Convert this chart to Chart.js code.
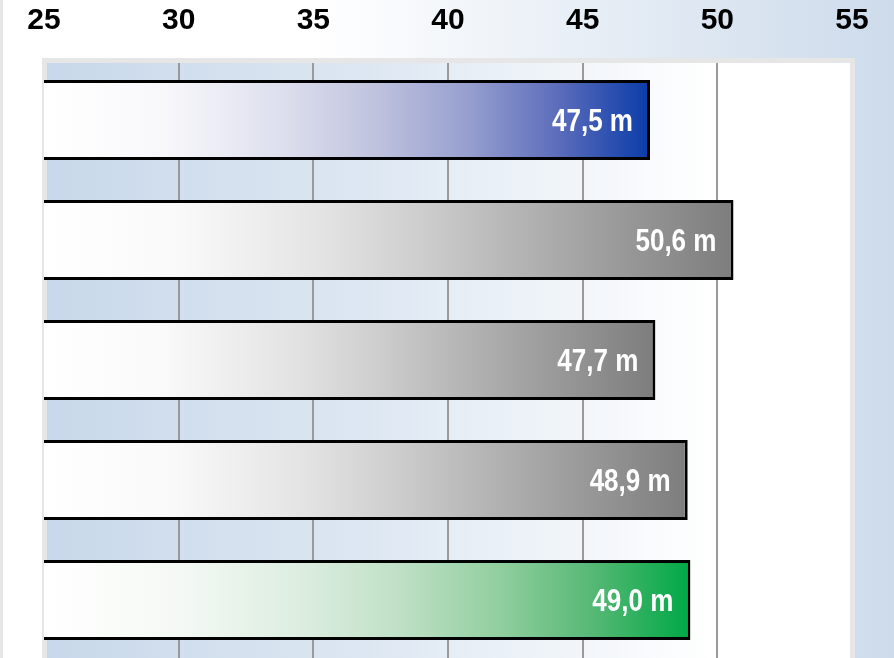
<!DOCTYPE html>
<html>
<head>
<meta charset="utf-8">
<script src="https://cdn.jsdelivr.net/npm/chart.js@4"></script>
<style>
  html, body { margin: 0; padding: 0; overflow: hidden; background: #fff; }
  #wrap { width: 894px; height: 658px; overflow: hidden; position: relative; }
  #c { display: block; }
</style>
</head>
<body>
<div id="wrap"><canvas id="c" width="894" height="700" style="width:894px;height:700px"></canvas></div>
<script>
const categories = ['A', 'B', 'C', 'D', 'E'];
const values = [47.5, 50.6, 47.7, 48.9, 49.0];
const valueLabels = values.map(v => v.toFixed(1).replace('.', ',') + ' m');
const tickValues = [25, 30, 35, 40, 45, 50, 55];
const barEndColors = ['blue', 'gray', 'gray', 'gray', 'green'];

const FONT = '"Liberation Sans Narrow", "Arial Narrow", "Liberation Sans", Arial, sans-serif';

const gradientStops = {
  blue:  [[0, '#ffffff'], [0.2, '#f8f8fb'], [0.4, '#dcdeed'], [0.55, '#bfc2de'], [0.7, '#969fcf'], [0.85, '#5b6cbb'], [1, '#0a3ca8']],
  gray:  [[0, '#ffffff'], [0.2, '#f9f9f9'], [0.4, '#e4e4e4'], [0.55, '#cdcdcd'], [0.7, '#b2b2b2'], [0.85, '#979797'], [1, '#7d7d7d']],
  green: [[0, '#ffffff'], [0.2, '#f5f9f5'], [0.4, '#dcede0'], [0.55, '#bfe0c6'], [0.7, '#93cfa0'], [0.85, '#55b874'], [1, '#00a846']]
};

function barGradient(ctx) {
  const chart = ctx.chart;
  const area = chart.chartArea;
  const key = barEndColors[ctx.dataIndex];
  const stops = gradientStops[key];
  if (!area) return stops[stops.length - 1][1];
  const xs = chart.scales.x;
  const x0 = xs.getPixelForValue(xs.min);
  const x1 = xs.getPixelForValue(values[ctx.dataIndex]);
  const g = chart.ctx.createLinearGradient(x0, 0, x1, 0);
  stops.forEach(s => g.addColorStop(s[0], s[1]));
  return g;
}

const backgroundPlugin = {
  id: 'bgPlugin',
  beforeDraw(chart) {
    const c = chart.ctx;
    const W = chart.width, H = chart.height;
    c.save();
    const pg = c.createLinearGradient(0, 0, W, 0);
    pg.addColorStop(0, '#ffffff');
    pg.addColorStop(0.35, '#ffffff');
    pg.addColorStop(1, '#cddbeb');
    c.fillStyle = pg;
    c.fillRect(0, 0, W, H);
    c.fillStyle = '#e6e6e6';
    c.fillRect(0, 0, 3, H);
    c.fillStyle = '#e6e6e6';
    c.fillRect(42, 58, 855 - 42, H - 58);
    const ig = c.createLinearGradient(47, 0, 850, 0);
    ig.addColorStop(0, '#c8d8ea');
    ig.addColorStop(0.4, '#dde7f2');
    ig.addColorStop(0.83, '#ffffff');
    ig.addColorStop(1, '#ffffff');
    c.fillStyle = ig;
    c.fillRect(47, 63, 850 - 47, H - 63 - 3);
    c.restore();
  },
  beforeDatasetsDraw(chart) {
    const c = chart.ctx;
    const H = chart.height;
    c.save();
    c.fillStyle = '#e6e6e6';
    c.fillRect(42, 58, 855 - 42, 5);
    c.fillRect(850, 58, 5, H - 58);
    c.fillRect(42, 58, 5, H - 58);
    c.restore();
  }
};

const labelPlugin = {
  id: 'valueLabels',
  afterDatasetsDraw(chart) {
    const c = chart.ctx;
    const meta = chart.getDatasetMeta(0);
    meta.data.forEach((bar, i) => {
      c.save();
      c.translate(bar.x - 17, bar.y + 2);
      c.scale(0.84, 1);
      c.font = 'bold 31px ' + FONT;
      c.fillStyle = '#ffffff';
      c.textAlign = 'right';
      c.textBaseline = 'middle';
      c.fillText(valueLabels[i], 0, 0);
      c.restore();
    });
  }
};

new Chart(document.getElementById('c'), {
  type: 'bar',
  data: {
    labels: categories,
    datasets: [{
      data: values,
      backgroundColor: barGradient,
      borderColor: '#000000',
      borderWidth: 3,
      borderSkipped: false,
      barPercentage: 0.667,
      categoryPercentage: 1.0
    }]
  },
  options: {
    indexAxis: 'y',
    responsive: false,
    animation: false,
    devicePixelRatio: 1,
    layout: { padding: { left: 44, right: 42, top: 0, bottom: 40 } },
    plugins: { legend: { display: false }, tooltip: { enabled: false } },
    scales: {
      x: {
        position: 'top',
        min: 25,
        max: 55,
        afterBuildTicks(scale) { scale.ticks = tickValues.map(v => ({ value: v })); },
        afterFit(scale) { scale.height = 60; },
        ticks: {
          color: '#000000',
          font: { family: FONT, size: 30, weight: 'bold' },
          padding: 21,
          maxRotation: 0,
          autoSkip: false
        },
        grid: {
          drawTicks: false,
          lineWidth: 2,
          color: ctx => (ctx.tick && (ctx.tick.value === 25 || ctx.tick.value === 55)) ? 'rgba(0,0,0,0)' : '#9a9a9a'
        },
        border: { display: false }
      },
      y: {
        display: false
      }
    }
  },
  plugins: [backgroundPlugin, labelPlugin]
});
</script>
</body>
</html>
